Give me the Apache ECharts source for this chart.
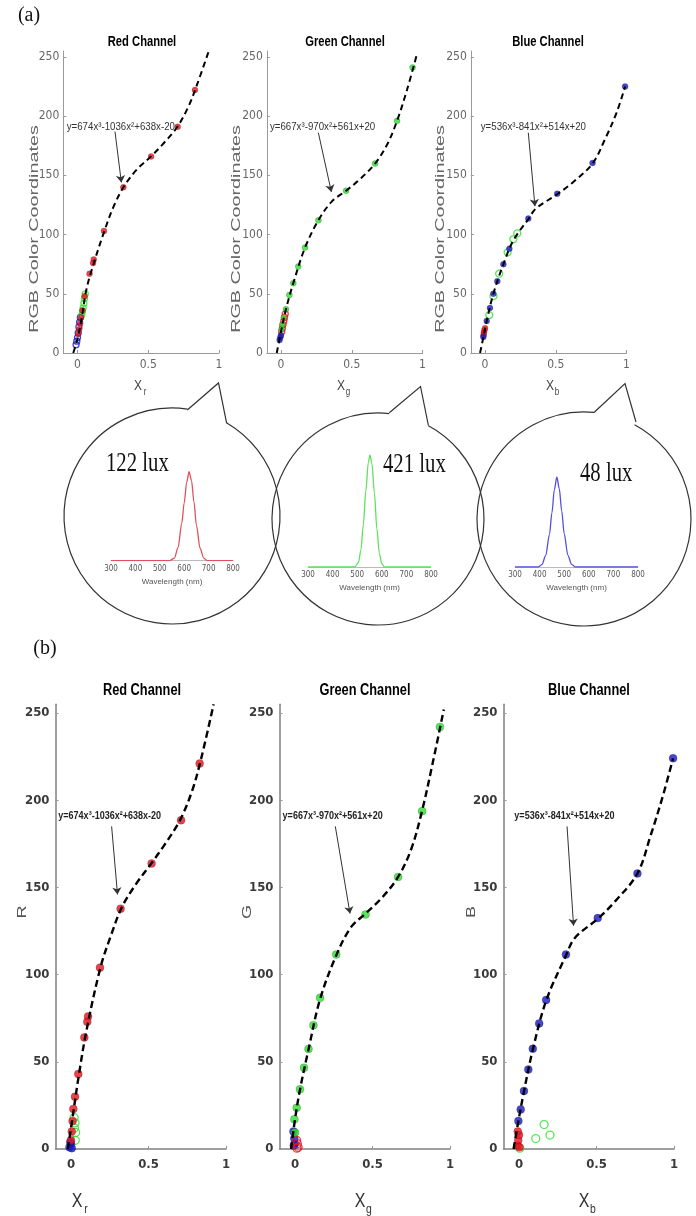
<!DOCTYPE html>
<html><head><meta charset="utf-8">
<script src="https://cdn.jsdelivr.net/npm/echarts@6/dist/echarts.min.js"></script>
<style>html,body{margin:0;padding:0;background:#fff}#c{width:696px;height:1216px}</style>
</head><body><div id="c"></div><script>
// ---------- (a) panel data ----------
const aRedMain   = [[0.83,222],[0.708,191],[0.52,166],[0.324,140],[0.187,103],[0.115,79],[0.11,76],[0.085,67],[0.05,48],[0.035,36],[0.025,30],[0.018,25],[0.012,20],[0.005,16]];
const aRedGreen  = [[0.055,50],[0.05,46],[0.045,42],[0.04,38],[0.035,35],[0.03,32]];
const aRedBlue   = [[0.02,30],[0.015,26],[0.01,22],[0.005,17],[0.0,13],[-0.005,10],[-0.01,7]];
const aRedCurve  = [[-0.03,0],[0,12],[0.03,30],[0.06,52],[0.1,70],[0.19,103],[0.26,125],[0.33,141],[0.42,155],[0.52,166],[0.6,176],[0.7,190],[0.78,207],[0.84,225],[0.925,254]];

const aGreenMain = [[0.93,241],[0.82,196],[0.665,160],[0.46,137],[0.264,112],[0.17,89],[0.122,73],[0.087,59],[0.059,49],[0.035,37],[0.02,30],[0.01,24],[0.005,20]];
const aGreenRed  = [[0.03,33],[0.025,30],[0.02,27],[0.015,24],[0.01,21],[0.005,18]];
const aGreenBlue = [[-0.01,11],[-0.005,13],[0,15]];
const aGreenCurve= [[-0.03,0],[0,18],[0.035,37],[0.087,59],[0.17,89],[0.264,112],[0.36,128],[0.46,137],[0.56,147],[0.665,160],[0.75,176],[0.82,196],[0.89,222],[0.96,252]];

const aBlueMain  = [[0.99,225],[0.76,160.5],[0.51,134.5],[0.306,113.5],[0.172,88],[0.13,75],[0.087,60.5],[0.059,50],[0.035,38],[0.012,27],[-0.012,13.5]];
const aBlueGreen = [[0.228,101],[0.2,96],[0.16,85],[0.1,67],[0.06,48],[0.03,32]];
const aBlueRed   = [[-0.01,15],[-0.008,17],[-0.005,19],[0,21]];
const aBlueCurve = [[-0.035,0],[-0.012,13],[0.012,27],[0.059,50],[0.13,75],[0.2,95],[0.306,113],[0.36,122],[0.51,134],[0.62,144],[0.76,160],[0.85,181],[0.93,203],[0.99,225]];

// ---------- (b) panel data ----------
const bRedMain   = [[0.83,221],[0.71,188.5],[0.52,163.7],[0.32,137.8],[0.187,104],[0.11,76],[0.105,73],[0.086,64],[0.047,43],[0.026,30],[0.015,23],[0.01,16],[0.005,10],[0,5]];
const bRedGreen  = [[0.026,15],[0.03,9.5],[0.028,5],[0.022,12],[0.02,18]];
const bRedBlue   = [[-0.01,1],[0,3],[0.005,0.5],[-0.005,4]];
const bRedCurve  = [[-0.02,0],[0.01,18],[0.05,42],[0.1,68],[0.19,104],[0.26,123],[0.33,139],[0.42,152],[0.52,164],[0.6,174],[0.7,188],[0.78,205],[0.84,224],[0.92,255]];

const bGreenMain = [[0.935,242],[0.82,193.7],[0.665,156],[0.455,134.5],[0.266,111.5],[0.162,86.7],[0.119,71],[0.087,57.4],[0.058,46.6],[0.032,34.2],[0.011,23.6],[-0.004,17],[0,9.5]];
const bGreenBlue = [[-0.01,10],[-0.005,6],[0,3],[-0.008,2]];
const bGreenRed  = [[0.01,5],[0.015,3],[0.02,1],[0.012,0.5]];
const bGreenCurve= [[-0.025,0],[0,17],[0.032,34],[0.087,57],[0.162,86],[0.266,111],[0.36,127],[0.455,135],[0.56,144],[0.665,156],[0.75,172],[0.82,194],[0.89,222],[0.96,252]];

const bBlueMain  = [[0.994,224],[0.764,158],[0.508,132.4],[0.303,111.6],[0.175,85.5],[0.13,72],[0.089,57.5],[0.06,45.6],[0.032,33.3],[0.011,22.6],[-0.004,16]];
const bBlueGreen = [[0.108,6],[0.162,14],[0.2,8],[0.005,0.5]];
const bBlueRed   = [[-0.01,2],[-0.005,5],[0,8],[-0.008,10],[0.003,1]];
const bBlueCurve = [[-0.035,0],[-0.004,16],[0.032,33],[0.089,57],[0.175,85],[0.303,111],[0.36,121],[0.508,132],[0.62,142],[0.764,158],[0.85,180],[0.93,203],[0.994,224]];

// ---------- spectra (wavelength nm, relative intensity) ----------
const specRed   = [[300,0],[540,0],[560,0.03],[575,0.15],[590,0.42],[600,0.65],[610,0.88],[620,1],[630,0.9],[640,0.66],[650,0.4],[665,0.14],[680,0.03],[695,0],[800,0]];
const specGreen = [[300,0],[490,0],[505,0.04],[515,0.15],[525,0.38],[535,0.68],[545,0.93],[552,1],[560,0.92],[570,0.66],[580,0.34],[590,0.12],[600,0.03],[610,0],[800,0]];
const specBlue  = [[300,0],[395,0],[410,0.03],[425,0.13],[440,0.36],[450,0.6],[460,0.86],[470,1],[480,0.87],[490,0.62],[500,0.37],[515,0.13],[530,0.03],[545,0],[800,0]];

// ---------- labels ----------
const xTicks = [0, 0.5, 1];
const yTicks = [0, 50, 100, 150, 200, 250];
const titles = ['Red Channel', 'Green Channel', 'Blue Channel'];
const eqTexts = ['y=674x³-1036x²+638x-20', 'y=667x³-970x²+561x+20', 'y=536x³-841x²+514x+20'];
const luxLabels = ['122 lux', '421 lux', '48 lux'];
const bYNames = ['R', 'G', 'B'];
const subs = ['r', 'g', 'b'];
// arrow annotations [start, tip] in data coords
const arrows = [
  [[0.265,187],[0.31,144]], [[0.264,186],[0.356,136]], [[0.306,186],[0.353,124]],
  [[0.262,185],[0.30,146]], [[0.26,185],[0.355,135]], [[0.31,185],[0.352,128]]
];
const eqStart = [[-0.076,191],[-0.078,191],[-0.03,191],[-0.082,191],[-0.08,191],[-0.03,191]];

const SANS = '"Liberation Sans", Arial, sans-serif';
const NARROW = '"Liberation Sans Narrow", "DejaVu Sans Condensed", "Liberation Sans", sans-serif';
const SERIF = '"Liberation Serif", "DejaVu Serif", serif';
const RED = '#e8121c', GREEN = '#2ee02e', BLUE = '#1818c8';

const chart = echarts.init(document.getElementById('c'), null, {renderer: 'canvas'});

const grids = [
  {left:63.35, top:51, width:155.65, height:302},
  {left:266.85, top:51, width:155.65, height:302},
  {left:470.85, top:51, width:155.65, height:302},
  {left:55.5, top:704.3, width:170.5, height:444.7},
  {left:279.5, top:704.3, width:170.5, height:444.7},
  {left:503.5, top:704.3, width:170.5, height:444.7},
  {left:111, top:471.7, width:122, height:89},
  {left:308, top:455, width:123, height:112},
  {left:515, top:477, width:123, height:90}
];

const xAxes = [], yAxes = [];
for (let g = 0; g < 6; g++) {
  const big = g >= 3;
  xAxes.push({gridIndex:g, type:'value', min:-0.1, max:1,
    axisLine:{show:true, onZero:false, lineStyle:{color: big?'#808080':'#9a9a9a', width: big?1.5:1}},
    axisTick:{show:true, inside:true, length:3, customValues:xTicks, lineStyle:{color:'#999'}},
    axisLabel:{customValues:xTicks, margin: big?9:6, fontSize: big?13:12, fontWeight: big?'bold':'normal', color: big?'#3a3a3a':'#666', fontFamily: NARROW},
    splitLine:{show:false}});
  yAxes.push({gridIndex:g, type:'value', min:0, max:255,
    axisLine:{show:true, onZero:false, lineStyle:{color: big?'#808080':'#9a9a9a', width: big?1.5:1}},
    axisTick:{show:true, inside:true, length:3, customValues:yTicks, lineStyle:{color:'#999'}},
    axisLabel:{customValues:yTicks, margin: big?6:4, fontSize: big?13:12, fontWeight: big?'bold':'normal', color: big?'#3a3a3a':'#666', fontFamily: NARROW},
    splitLine:{show:false}});
}
for (let k = 0; k < 3; k++) {
  const g = 6 + k;
  xAxes.push({gridIndex:g, type:'value', min:300, max:800, interval:100,
    name:'Wavelength (nm)', nameLocation:'middle', nameGap:17,
    nameTextStyle:{fontSize:8, color:'#555', fontFamily:SANS},
    axisLine:{show:true, lineStyle:{color:'#bbb', width:1}},
    axisTick:{show:false},
    axisLabel:{margin:4, fontSize:8, color:'#555', fontFamily:NARROW},
    splitLine:{show:false}});
  yAxes.push({gridIndex:g, type:'value', min:0, max:1, show:false, splitLine:{show:false}});
}

function sc(g, data, color, filled, size) {
  return {type:'scatter', xAxisIndex:g, yAxisIndex:g, data, symbolSize:size, z:3, silent:true,
    itemStyle: filled ? {color:color, borderColor:'rgba(0,0,0,0.35)', borderWidth:0.6}
                      : {color:'rgba(255,255,255,0)', borderColor:color, borderWidth:1.3}};
}
function curve(g, data, big) {
  return {type:'line', xAxisIndex:g, yAxisIndex:g, data, smooth:0.35, symbol:'none', z:5, silent:true,
    lineStyle:{color:'#000', width: big?2.4:2, type: big?[7,4]:[6,4]},
    markLine:{silent:true, symbol:['none','arrow'], symbolSize:7, label:{show:false},
      lineStyle:{color:'#333', width:1, type:'solid'},
      data:[[{coord:arrows[g][0]},{coord:arrows[g][1]}]]}};
}

const series = [
  sc(0, aRedBlue, BLUE, false, 6), sc(0, aRedGreen, GREEN, false, 6), sc(0, aRedMain, RED, true, 6), curve(0, aRedCurve, false),
  sc(1, aGreenRed, RED, false, 6), sc(1, aGreenBlue, BLUE, true, 6), sc(1, aGreenMain, GREEN, true, 6), curve(1, aGreenCurve, false),
  sc(2, aBlueGreen, GREEN, false, 7), sc(2, aBlueRed, RED, true, 6), sc(2, aBlueMain, BLUE, true, 6), curve(2, aBlueCurve, false),
  sc(3, bRedGreen, GREEN, false, 8), sc(3, bRedBlue, BLUE, true, 8), sc(3, bRedMain, RED, true, 8), curve(3, bRedCurve, true),
  sc(4, bGreenBlue, BLUE, true, 8), sc(4, bGreenRed, RED, false, 8), sc(4, bGreenMain, GREEN, true, 8), curve(4, bGreenCurve, true),
  sc(5, bBlueGreen, GREEN, false, 8), sc(5, bBlueRed, RED, true, 8), sc(5, bBlueMain, BLUE, true, 8), curve(5, bBlueCurve, true),
  {type:'line', xAxisIndex:6, yAxisIndex:6, data:specRed, smooth:0.3, smoothMonotone:'x', symbol:'none', lineStyle:{color:'#e0505c', width:1.3}},
  {type:'line', xAxisIndex:7, yAxisIndex:7, data:specGreen, smooth:0.3, smoothMonotone:'x', symbol:'none', lineStyle:{color:'#5fe05f', width:1.3}},
  {type:'line', xAxisIndex:8, yAxisIndex:8, data:specBlue, smooth:0.3, smoothMonotone:'x', symbol:'none', lineStyle:{color:'#5050e0', width:1.3}}
];

chart.setOption({animation:false, backgroundColor:'#fff', grid:grids, xAxis:xAxes, yAxis:yAxes, series});

function T(x, y, text, o) {
  o = o || {};
  return {type:'text', x, y, rotation:o.rot||0, scaleX:o.sx||1, scaleY:o.sy||1, silent:true, z:10,
    style:{text, fill:o.color||'#000', font:o.font, align:o.align||'center', verticalAlign:o.va||'middle',
           textAlign:o.align||'center', textVerticalAlign:o.va||'middle'}};
}
const G = [];
G.push(T(29, 16, '(a)', {font:'20px '+SERIF, color:'#111'}));
G.push(T(45, 649, '(b)', {font:'20px '+SERIF, color:'#111'}));
// titles
[142,345,548].forEach((x,i)=>G.push(T(x, 42, titles[i], {font:'bold 14px '+SANS, sx:0.8})));
[142,365,589].forEach((x,i)=>G.push(T(x, 691, titles[i], {font:'bold 16px '+SANS, sx:0.8})));
// y names
[34,236,440].forEach(x=>G.push(T(x, 229, 'RGB Color Coordinates', {font:'13px '+SANS, color:'#666', rot:Math.PI/2, sx:1.52})));
[22,247,471].forEach((x,i)=>G.push(T(x, 912, bYNames[i], {font:'15px '+SANS, color:'#555', rot:Math.PI/2, sy:0.9, sx:1.2})));
// x names with subscripts
[[140,386],[343,386],[552,386]].forEach((p,i)=>{
  G.push(T(p[0]-2, p[1], 'X', {font:'15px '+SANS, color:'#444', sx:0.8}));
  G.push(T(p[0]+5, p[1]+6, subs[i], {font:'10px '+SANS, color:'#444', sx:0.8}));
});
[[80,1201],[363,1201],[587,1201]].forEach((p,i)=>{
  G.push(T(p[0]-3, p[1], 'X', {font:'20px '+SANS, color:'#333', sx:0.8}));
  G.push(T(p[0]+6, p[1]+8, subs[i], {font:'13px '+SANS, color:'#333', sx:0.8}));
});
// speech bubbles
const bubbles = [
  {c:[172,516], r:108, l:[187.3,410], t:[218.5,383], rt:[226.7,423.3]},
  {c:[378,519], r:106, l:[389.3,412.7], t:[420.5,386.5], rt:[428.3,425]},
  {c:[584,519], r:107, l:[594,412.5], t:[625,383.5], rt:[636,422]}
];
bubbles.forEach(b=>{
  const a1 = Math.atan2(b.rt[1]-b.c[1], b.rt[0]-b.c[0]);
  const a2 = Math.atan2(b.l[1]-b.c[1], b.l[0]-b.c[0]) + Math.PI*2;
  G.push({type:'arc', silent:true, z:1, shape:{cx:b.c[0], cy:b.c[1], r:b.r, startAngle:a1, endAngle:a2, clockwise:true},
    style:{stroke:'#333', fill:null, lineWidth:1.2}});
  G.push({type:'polyline', silent:true, z:1, shape:{points:[b.l, b.t, b.rt]}, style:{stroke:'#333', fill:null, lineWidth:1.2}});
});
// lux labels
G.push(T(106, 464, luxLabels[0], {font:'28px '+SERIF, color:'#111', align:'left', sx:0.74}));
G.push(T(383, 465, luxLabels[1], {font:'28px '+SERIF, color:'#111', align:'left', sx:0.74}));
G.push(T(580, 474, luxLabels[2], {font:'28px '+SERIF, color:'#111', align:'left', sx:0.74}));
// equations
for (let g = 0; g < 6; g++) {
  const p = chart.convertToPixel({gridIndex:g}, eqStart[g]);
  const big = g >= 3;
  G.push(T(p[0], p[1], eqTexts[g%3], {font:(big?'bold ':'')+'11px '+SANS, color: big?'#222':'#333', align:'left', sx: big?0.82:0.88}));
}
chart.setOption({graphic:{elements:G}});
</script></body></html>
